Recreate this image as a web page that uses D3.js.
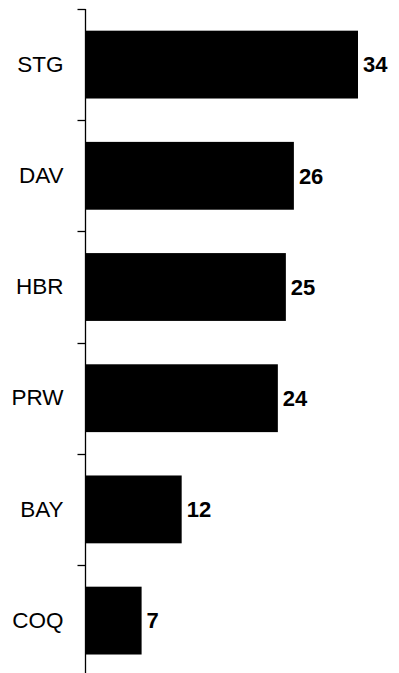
<!DOCTYPE html>
<html><head><meta charset="utf-8">
<script src="https://cdn.jsdelivr.net/npm/d3@7"></script>
<style>body{margin:0;background:#fff;} svg{display:block;}</style>
</head><body>
<svg id="chart" width="399" height="673"></svg>
<script>
const categories = ["STG", "DAV", "HBR", "PRW", "BAY", "COQ"];
const values = [34, 26, 25, 24, 12, 7];

const svg = d3.select("#chart");
const axisX = 85.5;
const plotTop = 9;
const step = 111.2;

const y = d3.scaleBand().domain(categories)
  .range([plotTop, plotTop + step * categories.length])
  .paddingInner(0.39).paddingOuter(0.195);
const x = d3.scaleLinear().domain([0, 34]).range([axisX, 358]);

svg.selectAll("rect.bar").data(categories).join("rect")
  .attr("class", "bar")
  .attr("x", axisX)
  .attr("y", d => y(d))
  .attr("width", (d, i) => x(values[i]) - axisX)
  .attr("height", y.bandwidth())
  .attr("fill", "#000");

// axis line and boundary ticks
const g = svg.append("g");
g.append("line").attr("x1", axisX).attr("x2", axisX)
  .attr("y1", plotTop).attr("y2", 673).attr("stroke", "#000").attr("stroke-width", 1.3);
const bounds = d3.range(categories.length + 1).map(i => y.range()[0] + i * y.step());
g.selectAll("line.tick").data(bounds).join("line")
  .attr("class", "tick")
  .attr("x1", axisX - 8).attr("x2", axisX)
  .attr("y1", d => Math.round(d) + 0.5).attr("y2", d => Math.round(d) + 0.5)
  .attr("stroke", "#000").attr("stroke-width", 1.3);

// category labels
const yAxis = d3.axisLeft(y).tickSize(0).tickPadding(22);
const ag = svg.append("g").attr("transform", `translate(${axisX},0)`).call(yAxis);
ag.select(".domain").remove();
ag.selectAll("text")
  .attr("font-family", "'Liberation Sans', Arial, sans-serif")
  .attr("font-size", 22.5).attr("fill", "#000");

// value labels
svg.selectAll("text.val").data(categories).join("text")
  .attr("class", "val")
  .attr("x", (d, i) => x(values[i]) + 5)
  .attr("y", d => y(d) + y.bandwidth() / 2)
  .attr("dy", "0.35em")
  .attr("font-family", "'Liberation Sans', Arial, sans-serif")
  .attr("font-weight", "bold")
  .attr("font-size", 22)
  .attr("fill", "#000")
  .text((d, i) => values[i]);
</script>
</body></html>
